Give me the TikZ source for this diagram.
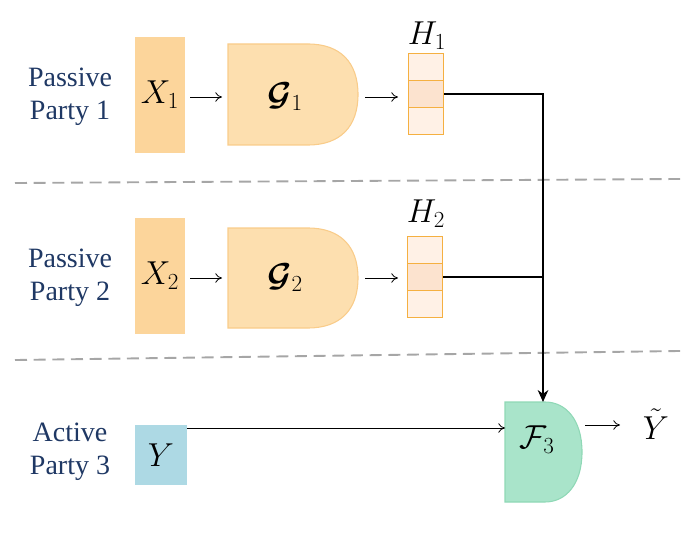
\documentclass[tikz,border=0pt]{standalone}
\usepackage{fontspec}
\setmainfont{Liberation Serif}
\usepackage{amsmath,bm}
\usetikzlibrary{arrows.meta}
\definecolor{navy}{HTML}{1F3864}
\definecolor{xor}{HTML}{FCD59B}
\definecolor{gfill}{HTML}{FDDFAF}
\definecolor{gline}{HTML}{F9CC8A}
\definecolor{hline}{HTML}{F5B041}
\definecolor{hlight}{HTML}{FFF1E6}
\definecolor{hmid}{HTML}{FCE3CF}
\definecolor{yfill}{HTML}{ADD9E4}
\definecolor{ffill}{HTML}{A9E4CA}
\definecolor{fline}{HTML}{8FD8B6}
\tikzset{
 party/.style={text=navy,align=center,font=\fontsize{21}{25}\selectfont},
 lab/.style={font=\fontsize{25}{28}\selectfont},
 arr/.style={-{To[length=5pt,width=7pt]},line width=0.6pt},
 conn/.style={line width=0.9pt},
 sepline/.style={draw=gray!70,line width=1.4pt,dash pattern=on 9pt off 5pt},
 cell/.style={draw=hline,line width=1pt,minimum width=26.25pt,minimum height=20.5pt,inner sep=0pt}
}
\newcommand{\gshape}[5]{% x1 y1 x2 y2 color
 \filldraw[fill=#5,draw=gline,line width=0.8pt] (#1,#2) -- ({#3-50},#2) .. controls ({#3-18},#2) and (#3,{#2+18}) .. (#3,{(#2+#4)/2}) .. controls (#3,{#4-18}) and ({#3-18},#4) .. ({#3-50},#4) -- (#1,#4) -- cycle;}
\begin{document}
\begin{tikzpicture}[x=0.75pt,y=-0.75pt]
\useasboundingbox (0,0) rectangle (695,545);
% party labels
\node[party] (p1) at (70,97) {Passive\\Party 1};
\node[party] (p2) at (70,278) {Passive\\Party 2};
\node[party] (p3) at (70,452) {Active\\Party 3};
% dashed
\draw[sepline] (15,183) -- (680,179);
\draw[sepline] (15,360) -- (680,351);
% X boxes
\node[fill=xor,minimum width=37.5pt,minimum height=87pt,inner sep=0pt,lab] (x1) at (160,95) {$X_1$};
\node[fill=xor,minimum width=37.5pt,minimum height=87pt,inner sep=0pt,lab] (x2) at (160,276) {$X_2$};
\node[fill=yfill,minimum width=39pt,minimum height=45pt,inner sep=0pt,lab] (y) at (161,455) {$Y$};
% G shapes
\gshape{228}{44}{358}{145}{gfill}
\node[lab] (g1) at (285,97) {$\bm{\mathcal{G}}_1$};
\gshape{228}{228}{358}{328}{gfill}
\node[lab] (g2) at (285,278) {$\bm{\mathcal{G}}_2$};
% F3
\filldraw[fill=ffill,draw=fline,line width=0.8pt] (505,402) -- (545,402) .. controls (566,402) and (582,420) .. (582,452) .. controls (582,484) and (566,502) .. (545,502) -- (505,502) -- cycle;
\coordinate (f3top) at (543,402);
\coordinate (f3in) at (505,428);
\node[lab] (f3) at (537,440) {$\mathcal{F}_3$};
% H stacks
\node[cell,fill=hlight] (h1a) at (426,67) {};
\node[cell,fill=hmid] (h1b) at (426,94) {};
\node[cell,fill=hlight] (h1c) at (426,121) {};
\node[lab] (h1) at (427,36) {$H_1$};
\node[cell,fill=hlight] (h2a) at (425,250) {};
\node[cell,fill=hmid] (h2b) at (425,277) {};
\node[cell,fill=hlight] (h2c) at (425,304) {};
\node[lab] (h2) at (426,214) {$H_2$};
% arrows
\coordinate (x1r) at (190,97); \coordinate (x2r) at (190,278);
\coordinate (g1l) at (222,97); \coordinate (g1r) at (365,97);
\coordinate (g2l) at (222,278); \coordinate (g2r) at (365,278);
\draw[arr] (x1r) -- (g1l);
\draw[arr] (g1r) -- ++(33,0);
\draw[arr] (x2r) -- (g2l);
\draw[arr] (g2r) -- ++(33,0);
\draw[conn] (h1b.east) -- (543,94) -- (543,278);
\draw[conn] (h2b.east) -- (543,277);
\draw[conn,-{Stealth[length=9pt,width=8pt]}] (543,270) -- (f3top);
\draw[arr] (y.east |- 0,428) -- (f3in);
\coordinate (fo) at (585,425);
\draw[arr] (fo) -- ++(35,0);
\node[lab,inner sep=0pt] (yt) at (656,424) {$\tilde{Y}$};
\end{tikzpicture}
\end{document}
